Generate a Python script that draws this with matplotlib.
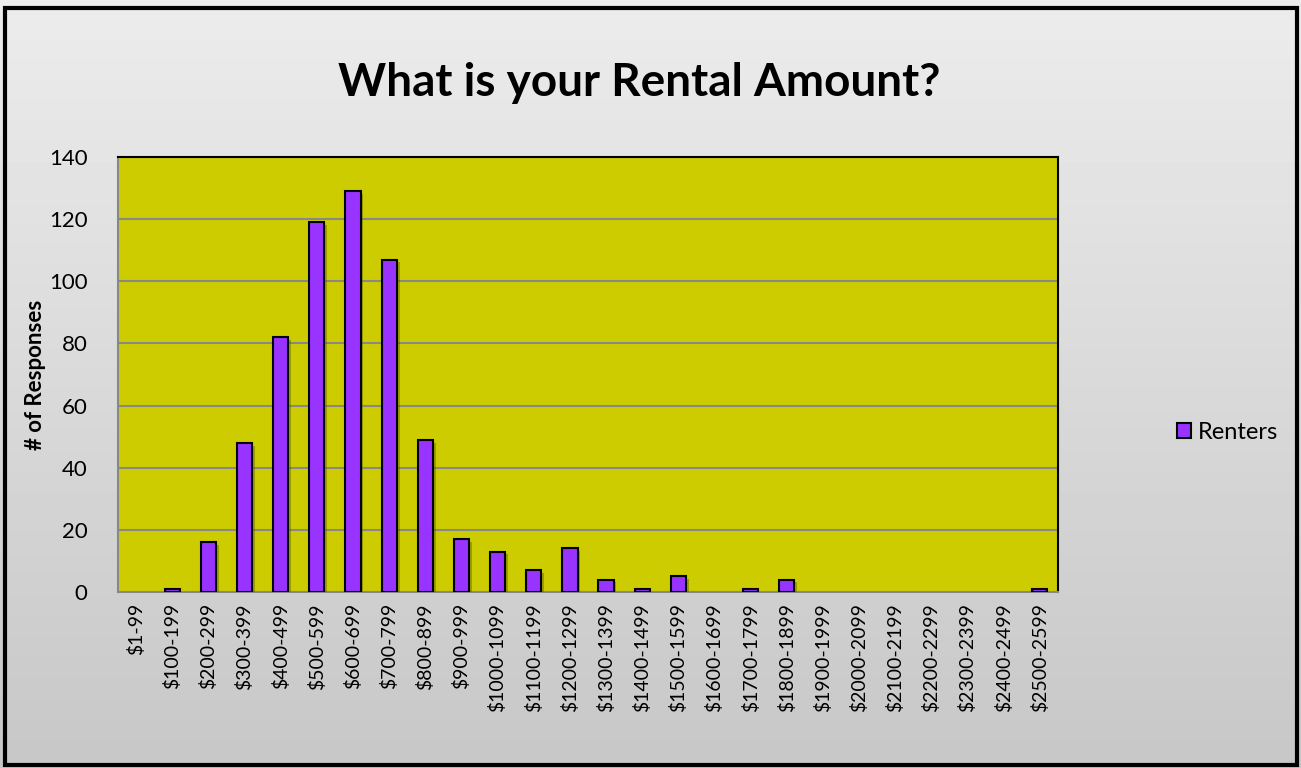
import numpy as np
import matplotlib.pyplot as plt
import matplotlib.patheffects as pe
from matplotlib.patches import Rectangle

categories = ["$1-99", "$100-199", "$200-299", "$300-399", "$400-499", "$500-599",
              "$600-699", "$700-799", "$800-899", "$900-999", "$1000-1099", "$1100-1199",
              "$1200-1299", "$1300-1399", "$1400-1499", "$1500-1599", "$1600-1699",
              "$1700-1799", "$1800-1899", "$1900-1999", "$2000-2099", "$2100-2199",
              "$2200-2299", "$2300-2399", "$2400-2499", "$2500-2599"]
renters = [0, 1, 16, 48, 82, 119, 129, 107, 49, 17, 13, 7, 14, 4, 1, 5, 0, 1, 4,
           0, 0, 0, 0, 0, 0, 1]

plt.rcParams['font.family'] = ['Lato', 'DejaVu Sans']

fig = plt.figure(figsize=(13.01, 7.68), dpi=100)

# gradient background
bg = fig.add_axes([0, 0, 1, 1], zorder=-10)
grad = np.linspace(0.925, 0.78, 256).reshape(-1, 1)
bg.imshow(grad, aspect='auto', cmap='gray', vmin=0, vmax=1, extent=[0, 1, 0, 1])
bg.set_xlim(0, 1)
bg.set_ylim(0, 1)
bg.axis('off')
bg.add_patch(Rectangle((0.004, 0.004), 0.993, 0.986, fill=False, lw=3, edgecolor='black'))

ax = fig.add_axes([0.0907, 0.2292, 0.7225, 0.5664])
ax.set_facecolor('#cccc00')
x = np.arange(len(categories))
bars = ax.bar(x, renters, width=0.42, color='#9933ff', edgecolor='black', lw=1.5,
              zorder=3)
for b, v in zip(bars, renters):
    if v == 0:
        b.set_visible(False)
        continue
    b.set_path_effects([pe.SimplePatchShadow(offset=(2, -2), shadow_rgbFace='#555500', alpha=0.4),
                        pe.Normal()])

ax.set_xlim(-0.5, len(categories) - 0.5)
ax.set_ylim(0, 140)
ax.set_yticks(range(0, 141, 20))
ax.yaxis.grid(True, color='#888888', lw=1.5, zorder=0)
ax.set_axisbelow(True)
ax.set_xticks(x)
ax.set_xticklabels(categories, rotation=90, fontsize=14)
ax.tick_params(axis='x', length=0, pad=8)
ax.tick_params(axis='y', length=0, labelsize=16, pad=22)
for s in ['left', 'bottom']:
    ax.spines[s].set_color('#888888')
    ax.spines[s].set_linewidth(1.5)
for s in ['top', 'right']:
    ax.spines[s].set_color('black')
    ax.spines[s].set_linewidth(1.5)

ax.set_ylabel('# of Responses', fontsize=16, fontweight='bold', labelpad=2)
fig.text(0.491, 0.892, 'What is your Rental Amount?', ha='center', va='center',
         fontsize=33, fontweight='bold')

handle = Rectangle((0, 0), 1, 1, facecolor='#9933ff', edgecolor='black', lw=1.5)
leg = fig.legend(handles=[handle], labels=['Renters'], loc='center left',
                 bbox_to_anchor=(0.888, 0.437), frameon=False, fontsize=17,
                 handlelength=0.6, handleheight=0.6, handletextpad=0.3)

fig.savefig('out.png', dpi=100)
